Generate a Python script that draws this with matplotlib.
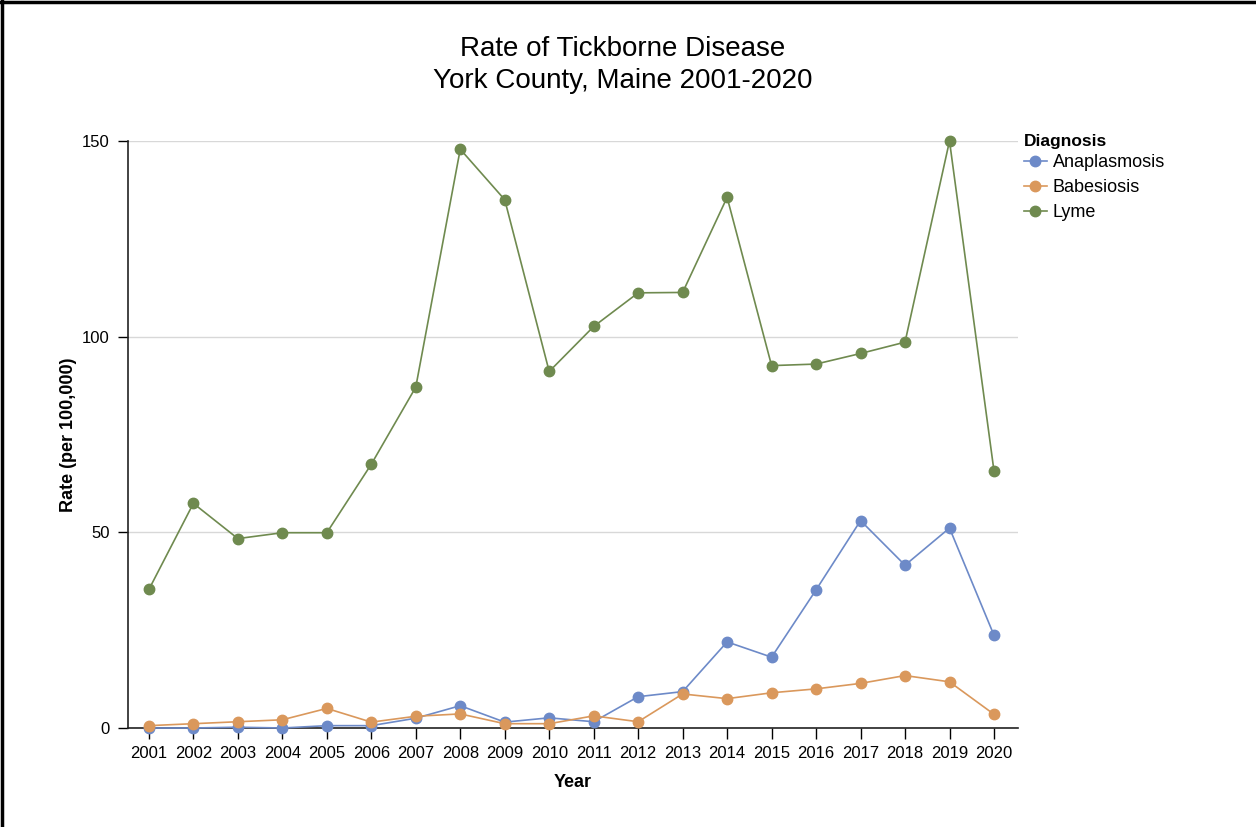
import matplotlib
matplotlib.use("Agg")
import matplotlib.pyplot as plt
from matplotlib.lines import Line2D

plt.rcParams["font.family"] = ["Liberation Sans", "DejaVu Sans"]

years = [str(y) for y in range(2001, 2021)]
anaplasmosis = [0.0, 0.0, 0.2, 0.0, 0.6, 0.6, 2.5, 5.7, 1.5, 2.6,
                1.6, 8.0, 9.3, 22.0, 18.1, 35.3, 53.0, 41.6, 51.1, 23.7]
babesiosis = [0.6, 1.1, 1.6, 2.1, 5.0, 1.5, 3.0, 3.6, 1.1, 1.1,
              3.1, 1.6, 8.7, 7.5, 9.0, 10.0, 11.4, 13.4, 11.8, 3.5]
lyme = [35.4, 57.4, 48.4, 49.9, 49.9, 67.4, 87.1, 147.9, 135.0, 91.1,
        102.6, 111.2, 111.3, 135.6, 92.6, 93.0, 95.7, 98.6, 150.0, 65.7]

series = ["Anaplasmosis", "Babesiosis", "Lyme"]
colors = ["#6d8ac8", "#da985c", "#6f8a4f"]

W, H = 1256, 827
fig = plt.figure(figsize=(W / 100, H / 100), dpi=100)
ax = fig.add_axes([128 / W, 1 - 728 / H, (1018 - 128) / W, (728 - 141) / H])

x = list(range(len(years)))
for name, vals, c in zip(series, [anaplasmosis, babesiosis, lyme], colors):
    ax.plot(x, vals, color=c, lw=1.2, marker="o", markersize=7.5,
            label=name, clip_on=False, zorder=3)

ax.set_xlim(-0.47, 19.54)
ax.set_ylim(0, 150)
ax.set_xticks(x)
ax.set_xticklabels(years, fontsize=12)
ax.set_yticks([0, 50, 100, 150])
ax.tick_params(axis="y", labelsize=12, length=7, width=1, pad=6)
ax.tick_params(axis="x", length=8, width=1, pad=5)
ax.grid(axis="y", color="#d8d8d8", lw=1)
ax.set_axisbelow(True)
for s in ["top", "right"]:
    ax.spines[s].set_visible(False)
for s in ["left", "bottom"]:
    ax.spines[s].set_color("#222222")
    ax.spines[s].set_linewidth(1.2)

ax.set_xlabel("Year", fontsize=13, fontweight="bold", labelpad=9)
ax.set_ylabel("Rate (per 100,000)", fontsize=13, fontweight="bold", labelpad=4)

fig.text(623 / W, 1 - 65 / H, "Rate of Tickborne Disease\nYork County, Maine 2001-2020",
         ha="center", va="center", fontsize=20, linespacing=1.35)

leg = fig.legend(loc="upper left", bbox_to_anchor=(1011 / W, 1 - 121 / H),
                 frameon=False, title="Diagnosis", alignment="left",
                 title_fontproperties={"weight": "bold", "size": 12.5},
                 fontsize=13, handlelength=1.3, handletextpad=0.3,
                 labelspacing=0.45, borderpad=0.2)
leg._legend_box.sep = 4

# screenshot frame
fig.add_artist(Line2D([2 / W, 2 / W], [0, 1], color="black", lw=2.5, transform=fig.transFigure))
fig.add_artist(Line2D([0, 1], [1 - 2 / H, 1 - 2 / H], color="black", lw=2.5, transform=fig.transFigure))

fig.savefig("out.png", dpi=100)
plt.close()
